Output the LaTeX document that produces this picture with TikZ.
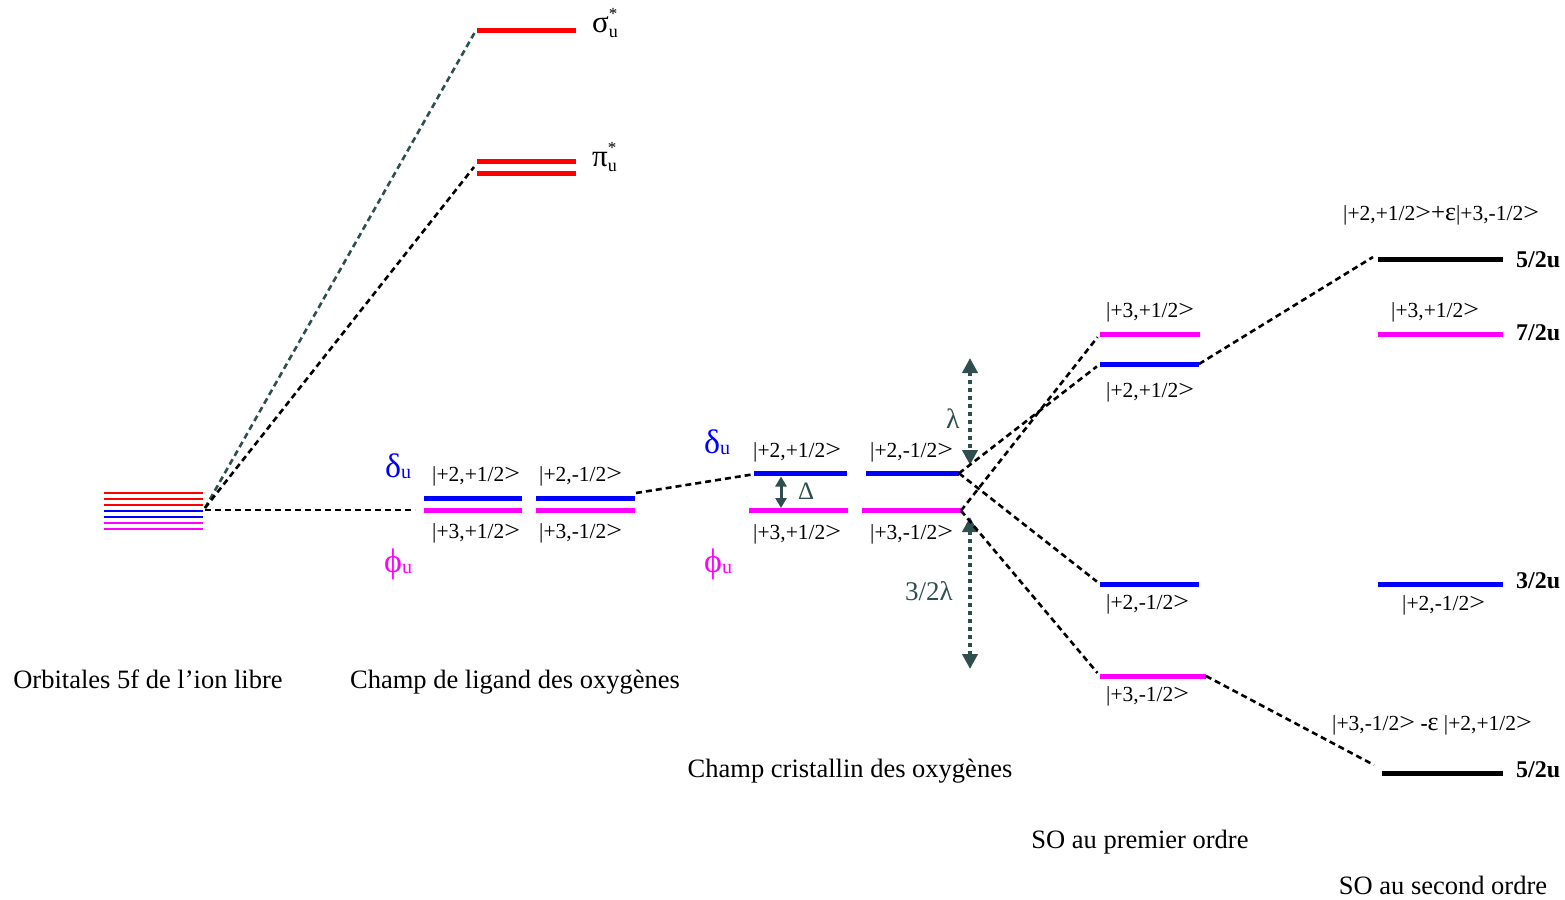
\documentclass[tikz,border=0pt]{standalone}
\usepackage{fontspec}
\usepackage{graphicx}
\setmainfont{Liberation Serif}
\usetikzlibrary{arrows.meta}
\definecolor{dsg}{HTML}{2F4F4F}
\definecolor{lvred}{HTML}{FF0000}
\definecolor{lvblue}{HTML}{0000FF}
\definecolor{lvmag}{HTML}{FF00FF}
\newcommand\grsub[2]{#1\raisebox{-1pt}{\fontsize{20}{20}\selectfont #2}}
\newcommand\grstar[1]{#1\rlap{\raisebox{13pt}{\fontsize{17}{17}\selectfont *}}\raisebox{-5pt}{\fontsize{18}{18}\selectfont u}}
\newcommand\bigeps{{\fontsize{26}{26}\selectfont ε}}
\newcommand\kr{\scalebox{1.3}[1.15]{>}}
\begin{document}
\begin{tikzpicture}[x=1pt,y=-1pt,
  lvl/.style={line width=5pt},
  stk/.style={line width=2.8pt},
  conn/.style={line width=2.6pt, dash pattern=on 6pt off 4pt},
  ketl/.style={anchor=base west, inner sep=0pt, font=\fontsize{21.5}{24}\selectfont},
  ttl/.style={anchor=base, inner sep=0pt, font=\fontsize{26.5}{30}\selectfont},
  jlab/.style={anchor=base west, inner sep=0pt, font=\bfseries\fontsize{24}{26}\selectfont},
  glab/.style={anchor=base west, inner sep=0pt, font=\fontsize{34}{36}\selectfont},
  slab/.style={anchor=base west, inner sep=0pt, font=\fontsize{31}{32}\selectfont},
  splitarrow/.style={dsg, line width=4.5pt, dash pattern=on 4pt off 4pt,
     {Triangle[width=15pt,length=15pt]}-{Triangle[width=15pt,length=15pt]}},
  deltaarrow/.style={dsg, line width=3pt, {Triangle[width=11pt,length=10pt]}-{Triangle[width=11pt,length=10pt]}}
]
\useasboundingbox (0,0) rectangle (1565,899);

% ---------------- free ion stack
\foreach \y/\c in {493/lvred,499/lvred,505/lvred,511/lvblue,517/lvblue,523/lvmag,529/lvmag}
  \draw[stk,\c] (104,\y) -- (203,\y);
\coordinate (fiR) at (205,508);

% ---------------- antibonding levels
\coordinate (sgL) at (477,31); \coordinate (sgR) at (576,31);
\coordinate (piL1) at (477,161); \coordinate (piR1) at (576,161);
\coordinate (piL2) at (477,173); \coordinate (piR2) at (576,173);
\coordinate (sgIn) at (475,32); \coordinate (piIn) at (474,167);
\draw[lvl,lvred] (sgL) -- (sgR);
\draw[lvl,lvred] (piL1) -- (piR1);
\draw[lvl,lvred] (piL2) -- (piR2);
\node[slab] (sigl) at (592,33) {\grstar{σ}};
\node[slab] (pil) at (592,166) {\grstar{π}};

% ---------------- ligand field
\coordinate (lbL1) at (424,498.5); \coordinate (lbR1) at (522,498.5);
\coordinate (lbL2) at (536,498.5); \coordinate (lbR2) at (635,498.5);
\coordinate (lmL1) at (424,510.5); \coordinate (lmR1) at (522,510.5);
\coordinate (lmL2) at (536,510.5); \coordinate (lmR2) at (635,510.5);
\draw[lvl,lvblue] (lbL1) -- (lbR1);
\draw[lvl,lvblue] (lbL2) -- (lbR2);
\draw[lvl,lvmag] (lmL1) -- (lmR1);
\draw[lvl,lvmag] (lmL2) -- (lmR2);
\coordinate (ligIn) at (415,510);
\coordinate (lbOut) at (636,493);
\node[glab,lvblue] (ldel) at (385,477) {\grsub{δ}{u}};
\node[glab,lvmag] (lphi) at (384,572) {\grsub{ϕ}{u}};
\node[ketl] (lk1) at (432,481) {|+2,+1/2\kr};
\node[ketl] (lk2) at (539,481) {|+2,-1/2\kr};
\node[ketl] (lk3) at (432,538) {|+3,+1/2\kr};
\node[ketl] (lk4) at (539,538) {|+3,-1/2\kr};

% ---------------- crystal field
\coordinate (cbL1) at (754,473.3); \coordinate (cbR1) at (847,473.3);
\coordinate (cbL2) at (866,473.3); \coordinate (cbR2) at (959,473.3);
\coordinate (cmL1) at (749,510.7); \coordinate (cmR1) at (848,510.7);
\coordinate (cmL2) at (862,510.7); \coordinate (cmR2) at (961,510.7);
\draw[lvl,lvblue] (cbL1) -- (cbR1);
\draw[lvl,lvblue] (cbL2) -- (cbR2);
\draw[lvl,lvmag] (cmL1) -- (cmR1);
\draw[lvl,lvmag] (cmL2) -- (cmR2);
\coordinate (cbIn) at (752,474.5);
\node[glab,lvblue] (cdel) at (704,453) {\grsub{δ}{u}};
\node[glab,lvmag] (cphi) at (704,572) {\grsub{ϕ}{u}};
\node[ketl] (ck1) at (753,457) {|+2,+1/2\kr};
\node[ketl] (ck2) at (870,457) {|+2,-1/2\kr};
\node[ketl] (ck3) at (753,539) {|+3,+1/2\kr};
\node[ketl] (ck4) at (870,539) {|+3,-1/2\kr};
\coordinate (dTop) at (781,476.5); \coordinate (dBot) at (781,508);
\draw[deltaarrow] (dTop) -- (dBot);
\node[anchor=base west, inner sep=0pt, dsg, font=\fontsize{25}{26}\selectfont] (dlab) at (798,499) {Δ};

% spin-orbit splitting arrows
\coordinate (lamT) at (970,358); \coordinate (lamB) at (970,465);
\coordinate (lam2T) at (970,517); \coordinate (lam2B) at (970,669);
\draw[splitarrow] (lamT) -- (lamB);
\draw[splitarrow] (lam2T) -- (lam2B);
\node[anchor=base west, inner sep=0pt, dsg, font=\fontsize{28}{30}\selectfont] (laml) at (946,428) {λ};
\node[anchor=base west, inner sep=0pt, dsg, font=\fontsize{27}{30}\selectfont] (lam2l) at (905,600) {3/2λ};

% ---------------- SO first order
\coordinate (s1mUL) at (1100,334); \coordinate (s1mUR) at (1200,334);
\coordinate (s1bUL) at (1100,364); \coordinate (s1bUR) at (1199,364);
\coordinate (s1bDL) at (1100,584); \coordinate (s1bDR) at (1199,584);
\coordinate (s1mDL) at (1100,676); \coordinate (s1mDR) at (1206,676);
\draw[lvl,lvmag] (s1mUL) -- (s1mUR);
\draw[lvl,lvblue] (s1bUL) -- (s1bUR);
\draw[lvl,lvblue] (s1bDL) -- (s1bDR);
\draw[lvl,lvmag] (s1mDL) -- (s1mDR);
\node[ketl] (s1k1) at (1106,317) {|+3,+1/2\kr};
\node[ketl] (s1k2) at (1106,397) {|+2,+1/2\kr};
\node[ketl] (s1k3) at (1106,609) {|+2,-1/2\kr};
\node[ketl] (s1k4) at (1106,701) {|+3,-1/2\kr};

% ---------------- SO second order
\coordinate (s2aL) at (1378,259); \coordinate (s2aR) at (1503,259);
\coordinate (s2bL) at (1378,334); \coordinate (s2bR) at (1503,334);
\coordinate (s2cL) at (1378,584); \coordinate (s2cR) at (1503,584);
\coordinate (s2dL) at (1382,773.5); \coordinate (s2dR) at (1503,773.5);
\draw[lvl,black] (s2aL) -- (s2aR);
\draw[lvl,lvmag] (s2bL) -- (s2bR);
\draw[lvl,lvblue] (s2cL) -- (s2cR);
\draw[lvl,black] (s2dL) -- (s2dR);
\coordinate (s2aIn) at (1373,257);
\coordinate (s2dIn) at (1374,765);
\node[ketl] (s2k1) at (1343,220) {|+2,+1/2\kr{\fontsize{25}{25}\selectfont +}\bigeps|+3,-1/2\kr};
\node[ketl] (s2k2) at (1391,317) {|+3,+1/2\kr};
\node[ketl] (s2k3) at (1402,610) {|+2,-1/2\kr};
\node[ketl] (s2k4) at (1332,730) {|+3,-1/2\kr{} \textbf{-}\bigeps{} |+2,+1/2\kr};
\node[jlab] (j1) at (1516,267) {5/2u};
\node[jlab] (j2) at (1516,340) {7/2u};
\node[jlab] (j3) at (1516,588) {3/2u};
\node[jlab] (j4) at (1516,777) {5/2u};

% ---------------- connectors
\draw[conn,dsg] (fiR) -- (sgIn);
\draw[conn] (fiR) -- (piIn);
\draw[conn] (fiR |- ligIn) -- (ligIn);
\draw[conn] (lbOut) -- (cbIn);
\draw[conn,shorten >=4pt] (cbR2) -- (s1bUL);
\draw[conn,shorten >=4pt] (cbR2) -- (s1bDL);
\draw[conn,shorten >=4pt] (cmR2) -- (s1mUL);
\draw[conn,shorten >=4pt] (cmR2) -- (s1mDL);
\draw[conn] (s1bUR) -- (s2aIn);
\draw[conn] (s1mDR) -- (s2dIn);

% ---------------- titles
\node[ttl] (t1) at (148,688) {Orbitales 5f de l’ion libre};
\node[ttl] (t2) at (515,688) {Champ de ligand des oxygènes};
\node[ttl] (t3) at (850,777) {Champ cristallin des oxygènes};
\node[ttl] (t4) at (1140,848) {SO au premier ordre};
\node[ttl] (t5) at (1443,894) {SO au second ordre};
\end{tikzpicture}
\end{document}
